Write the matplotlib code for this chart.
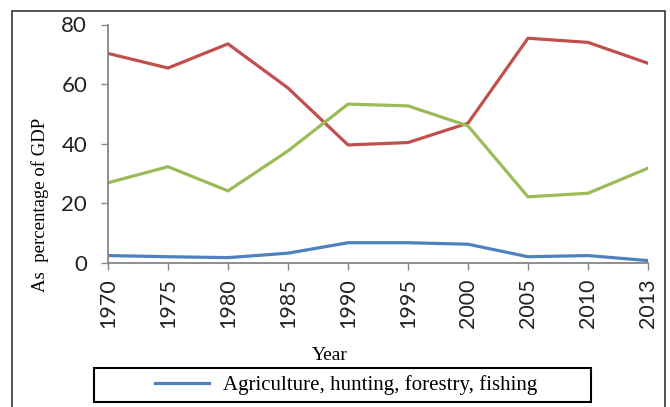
import matplotlib
matplotlib.use("Agg")
import matplotlib.pyplot as plt
from matplotlib.patches import Rectangle

years = ["1970", "1975", "1980", "1985", "1990", "1995", "2000", "2005", "2010", "2013"]
agriculture = [2.5, 2.1, 1.8, 3.3, 6.8, 6.8, 6.3, 2.1, 2.5, 0.8]
industry = [26.9, 32.3, 24.2, 37.6, 53.3, 52.7, 46.0, 22.2, 23.4, 31.8]
services = [70.3, 65.4, 73.5, 58.7, 39.6, 40.4, 46.9, 75.4, 74.0, 67.0]
yticks = [0, 20, 40, 60, 80]

W, H = 670, 407
fig = plt.figure(figsize=(W / 100, H / 100), dpi=100)
ax = fig.add_axes([108 / W, 1 - 263 / H, 540 / W, 238.5 / H])

x = range(len(years))
ax.plot(x, agriculture, color="#4F81BD", lw=2.3, label="Agriculture, hunting, forestry, fishing")
ax.plot(x, services, color="#C0504D", lw=2.3)
ax.plot(x, industry, color="#9BBB59", lw=2.3)

ax.set_xlim(0, len(years) - 1)
ax.set_ylim(0, 80)
ax.set_xticks(list(x))
ax.set_xticklabels(years, rotation=90, fontfamily="Lato", fontsize=15.5, color="#222222")
ax.set_yticks(yticks)
ax.set_yticklabels([str(v) for v in yticks], fontfamily="Lato", fontsize=16, color="#222222")
ax.tick_params(axis="y", length=5, width=1, color="#868686", pad=10)
ax.tick_params(axis="x", length=5, width=1, color="#868686", pad=6)

for s in ["top", "right"]:
    ax.spines[s].set_visible(False)
for s in ["left", "bottom"]:
    ax.spines[s].set_color("#868686")
    ax.spines[s].set_linewidth(1.3)

fig.text(40 / W, 1 - 205 / H, "As  percentage of GDP", rotation=90, ha="center", va="center",
         fontfamily="Liberation Serif", fontsize=13.5)
fig.text(330 / W, 1 - 355 / H, "Year", ha="center", va="center",
         fontfamily="Liberation Serif", fontsize=14)

# legend box and outer border
fig.patches.append(Rectangle((94 / W, 1 - 402 / H), 497 / W, 34 / H, transform=fig.transFigure,
                             fill=False, edgecolor="black", lw=1.5))
fig.patches.append(Rectangle((12 / W, -0.05), 653 / W, 1.05 - 11 / H, transform=fig.transFigure,
                             fill=False, edgecolor="#333333", lw=1.2))
fig.legend(loc="center", bbox_to_anchor=(346 / W, 1 - 385 / H), frameon=False,
           prop={"family": "Liberation Serif", "size": 15}, handlelength=2.6, handletextpad=0.7,
           borderpad=0)

fig.savefig("out.png", dpi=100)
